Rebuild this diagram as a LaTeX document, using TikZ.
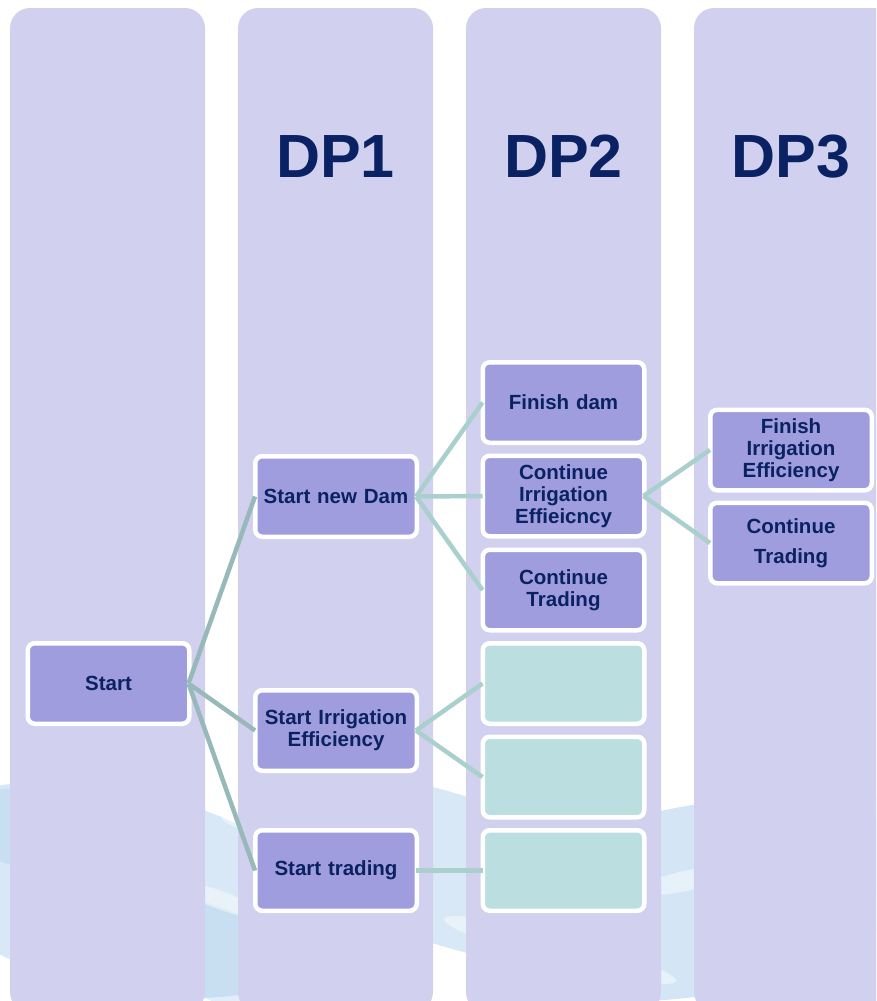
\documentclass[tikz,border=0pt]{standalone}
\usepackage{fontspec}
\setmainfont{Liberation Sans}
\usetikzlibrary{positioning}
\definecolor{colbg}{HTML}{D1D1EF}
\definecolor{boxfill}{HTML}{9F9DDD}
\definecolor{tealfill}{HTML}{BBDFE1}
\definecolor{txt}{HTML}{0A2263}
\definecolor{linkA}{HTML}{98B9B9}
\definecolor{linkB}{HTML}{A9D0CD}
\definecolor{water}{HTML}{A9CDEB}
\tikzset{
  column/.style={fill=colbg, draw=none, rounded corners=20pt},
  stagebox/.style={rectangle, rounded corners=7pt, fill=boxfill, draw=white,
    line width=4.5pt, minimum width=161.5pt, minimum height=80.5pt,
    inner sep=0pt, text width=158pt, align=center, text=txt,
    font=\fontsize{20.5}{22}\selectfont\bfseries},
  emptybox/.style={stagebox, fill=tealfill},
  heading/.style={text=txt, font=\fontsize{61}{61}\selectfont\bfseries, anchor=base, inner sep=0pt},
  linkdark/.style={draw=linkA, line width=4.5pt},
  linklight/.style={draw=linkB, line width=4.5pt},
}
\begin{document}
\begin{tikzpicture}[x=1pt,y=-1pt]
\useasboundingbox (0,0) rectangle (876,1001);
\clip (0,0) rectangle (876,1001);
% water background
\begin{scope}
\fill[water, opacity=0.45, rotate around={-12:(120,890)}] (120,890) ellipse (220 and 100);
\fill[water, opacity=0.45, rotate around={-18:(450,870)}] (450,870) ellipse (220 and 75);
\fill[water, opacity=0.5, rotate around={10:(700,900)}] (700,900) ellipse (220 and 95);
\fill[water, opacity=0.35, rotate around={-25:(230,960)}] (230,960) ellipse (140 and 45);
\fill[water, opacity=0.35, rotate around={15:(820,850)}] (820,850) ellipse (90 and 60);
\fill[water, opacity=0.35, rotate around={-8:(40,830)}] (40,830) ellipse (90 and 40);
\fill[white, opacity=0.45, rotate around={-10:(300,830)}] (300,830) ellipse (80 and 14);
\fill[white, opacity=0.45, rotate around={-15:(560,950)}] (560,950) ellipse (120 and 14);
\fill[white, opacity=0.45, rotate around={12:(690,880)}] (690,880) ellipse (60 and 10);
\fill[white, opacity=0.45, rotate around={-20:(220,900)}] (220,900) ellipse (50 and 9);
\end{scope}
% columns
\fill[column] (10,8) rectangle (205,1012);
\fill[column] (238,8) rectangle (433,1012);
\fill[column] (466,8) rectangle (661,1012);
\fill[column] (694,8) rectangle (900,1012);
% headings
\node[heading] (h1) at (335.5,177) {DP1};
\node[heading] (h2) at (563.5,177) {DP2};
\node[heading] (h3) at (791,177) {DP3};
% boxes
\node[stagebox] (start) at (108.5,683.5) {Start};
\node[stagebox] (dam) at (336,496.5) {Start new Dam};
\node[stagebox] (sie) at (336,730.5) {Start Irrigation\\Efficiency};
\node[stagebox] (str) at (336,870.5) {Start trading};
\node[stagebox] (fdam) at (563.5,402.5) {Finish dam};
\node[stagebox] (cie) at (563.5,496) {Continue\\Irrigation\\Effieicncy};
\node[stagebox] (ctr) at (563.5,590) {Continue\\Trading};
\node[emptybox] (e1) at (563.5,683.5) {};
\node[emptybox] (e2) at (563.5,777) {};
\node[emptybox] (e3) at (563.5,870.5) {};
\node[stagebox] (fie) at (791,450) {Finish\\Irrigation\\Efficiency};
\node[stagebox, font=\fontsize{20.5}{30}\selectfont\bfseries] (ctr3) at (791,543) {Continue\\Trading};
% connectors
\draw[linkdark] ([xshift=-3pt]start.east) -- ([xshift=2pt]dam.west);
\draw[linkdark] ([xshift=-3pt]start.east) -- ([xshift=2pt]sie.west);
\draw[linkdark] ([xshift=-3pt]start.east) -- ([xshift=2pt]str.west);
\draw[linklight] ([xshift=-3pt]dam.east) -- ([xshift=2pt]fdam.west);
\draw[linklight] ([xshift=-3pt]dam.east) -- ([xshift=2pt]cie.west);
\draw[linklight] ([xshift=-3pt]dam.east) -- ([xshift=2pt]ctr.west);
\draw[linklight] ([xshift=-3pt]sie.east) -- ([xshift=2pt]e1.west);
\draw[linklight] ([xshift=-3pt]sie.east) -- ([xshift=2pt]e2.west);
\draw[linklight] ([xshift=-3pt]str.east) -- ([xshift=2pt]e3.west);
\draw[linklight] ([xshift=-3pt]cie.east) -- ([xshift=2pt]fie.west);
\draw[linklight] ([xshift=-3pt]cie.east) -- ([xshift=2pt]ctr3.west);
\end{tikzpicture}
\end{document}
